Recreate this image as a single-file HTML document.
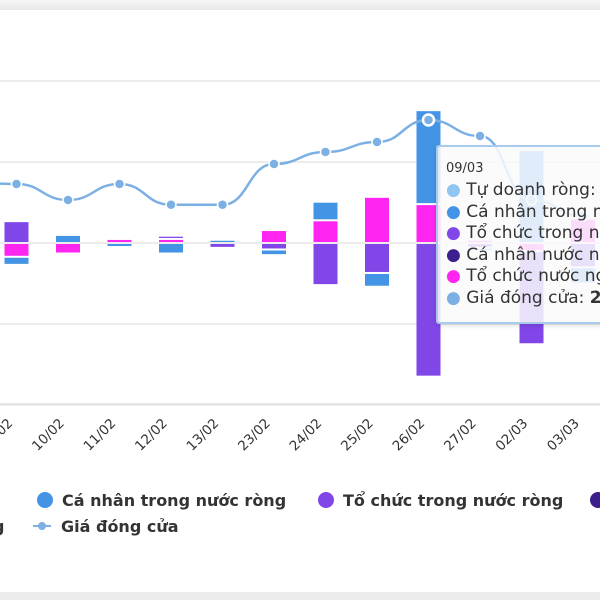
<!DOCTYPE html>
<html><head><meta charset="utf-8"><style>
html,body{margin:0;padding:0;background:#fff;}
body{width:600px;height:600px;overflow:hidden;position:relative;font-family:"DejaVu Sans","Liberation Sans",sans-serif;}
</style></head><body>
<div style="position:absolute;left:0;top:0;width:600px;height:10px;background:linear-gradient(#f6f6f6,#e8e8e8);"></div>
<div style="position:absolute;left:0;top:592px;width:600px;height:8px;background:#ececec;"></div>
<svg id="chart" width="600" height="600" style="position:absolute;left:0;top:0" xmlns="http://www.w3.org/2000/svg"></svg>
<script>
const categories=["08/02","09/02","10/02","11/02","12/02","13/02","23/02","24/02","25/02","26/02","27/02","02/03","03/03"];
const tuDoanh=[0,0,0,0,0,0,0,0,0,0,0,0,0];
const caNhanTN=[0,-10,10,-5,-13,4,-7,23,-17,116,-4,115,-20];
const toChucTN=[0,27,0,0,4,-6,-8,-52,-37,-165,-6,-115,-30];
const caNhanNN=[0,0,0,0,0,0,0,0,0,0,0,0,0];
const toChucNN=[0,-17,-13,5,5,0,16,28,57,48,4,-10,30];
const price=[22.45,22.4,22.0,22.4,21.88,21.88,22.9,23.2,23.45,24.0,23.6,22.0,21.6];
const yTicks=[-200,-100,0,100,200];

const svg=document.getElementById('chart');
const NS='http://www.w3.org/2000/svg';
const x0=-35,step=51.5;
function xS(i){return x0+i*step;}
function yS(v){return 243-v*0.81;}
function yP(p){return 120+(24-p)*40;}
function mk(t,a){const e=document.createElementNS(NS,t);for(const k in a)e.setAttribute(k,a[k]);svg.appendChild(e);return e;}

yTicks.forEach(v=>{const g=mk('line',{x1:0,x2:600,y1:yS(v),y2:yS(v),stroke:'#e6e6e6','stroke-width':1.5});

});

const series=[{d:toChucNN,c:'#ff24f0',n:'to-chuc-nuoc-ngoai'},{d:toChucTN,c:'#8146e8',n:'to-chuc-trong-nuoc'},{d:caNhanTN,c:'#4394e5',n:'ca-nhan-trong-nuoc'},{d:caNhanNN,c:'#3b1f8c',n:'ca-nhan-nuoc-ngoai'},{d:tuDoanh,c:'#8fc6f2',n:'tu-doanh'}];
categories.forEach((c,i)=>{
  let pos=0,neg=0;
  series.forEach(s=>{
    const v=s.d[i]; if(!v) return;
    let y1,y2;
    if(v>0){y1=yS(pos+v);y2=yS(pos);pos+=v;}else{y1=yS(neg);y2=yS(neg+v);neg+=v;}
    const r=mk('rect',{x:xS(i)-12,y:y1+1,width:24,height:Math.max(1,y2-y1-2),fill:s.c});
    
    
  });
});
const ax=mk('line',{x1:0,x2:600,y1:404,y2:404,stroke:'#e0e0e0','stroke-width':1.5});



let d='';
price.forEach((p,i)=>{const X=xS(i),Y=yP(p);
 if(i===0)d+='M'+X+','+Y;else{const px=xS(i-1),py=yP(price[i-1]);d+=' C'+(px+step/2)+','+py+' '+(X-step/2)+','+Y+' '+X+','+Y;}});
const pl=mk('path',{d:d,fill:'none',stroke:'#7cb0e4','stroke-width':2.5});


price.forEach((p,i)=>{
  const hov=i===9;
  const ci=mk('circle',{cx:xS(i),cy:yP(p),r:hov?5.5:5,fill:'#7cb0e4',stroke:'#fff','stroke-width':hov?2.5:1.5});
  
  
});

categories.forEach((c,i)=>{
  const X=xS(i)-3,Y=424;
  const t=mk('text',{x:X,y:Y,'text-anchor':'end',transform:'rotate(-45 '+X+' '+Y+')','font-size':13.5,fill:'#333','font-family':'DejaVu Sans, sans-serif'});
  t.textContent=c;
  
  
});
</script>

<div style="position:absolute;left:436px;top:145px;width:180px;height:175px;background:rgba(250,250,252,0.86);border:2px solid #a9cbeb;border-radius:3px;box-shadow:0 2px 4px rgba(0,0,0,0.12);font-size:17px;color:#333;">
 <div style="position:absolute;left:8px;top:14px;font-size:13px;">09/03</div>
 <div style="position:absolute;left:8px;top:33px;line-height:21.5px;white-space:nowrap;">
  <div><span style="color:#8fc6f2">●</span> Tự doanh ròng: </div>
  <div><span style="color:#4394e5">●</span> Cá nhân trong nước</div>
  <div><span style="color:#8146e8">●</span> Tổ chức trong nước</div>
  <div><span style="color:#3b1f8c">●</span> Cá nhân nước ngoài</div>
  <div><span style="color:#ff24f0">●</span> Tổ chức nước ngoài</div>
  <div><span style="color:#7cb0e4">●</span> Giá đóng cửa: <b>2</b></div>
 </div>
</div>

<div style="position:absolute;left:0;top:488px;width:600px;height:50px;font-size:16px;font-weight:bold;color:#333;white-space:nowrap;">
 <div style="position:absolute;left:-7px;top:29px;">g</div>
 <div style="position:absolute;left:37px;top:3px;"><span style="display:inline-block;width:16px;height:16px;border-radius:50%;background:#4394e5;vertical-align:-2px;margin-right:9px;"></span>Cá nhân trong nước ròng</div>
 <div style="position:absolute;left:318px;top:3px;"><span style="display:inline-block;width:16px;height:16px;border-radius:50%;background:#8146e8;vertical-align:-2px;margin-right:9px;"></span>Tổ chức trong nước ròng</div>
 <div style="position:absolute;left:590px;top:3px;"><span style="display:inline-block;width:16px;height:16px;border-radius:50%;background:#3b1f8c;vertical-align:-2px;"></span></div>
 <div style="position:absolute;left:33px;top:29px;"><span style="display:inline-block;width:18px;border-top:2px dashed #7cb0e4;vertical-align:5px;position:relative;margin-right:10px;"><span style="position:absolute;left:5px;top:-5px;width:8px;height:8px;border-radius:50%;background:#7cb0e4;"></span></span>Giá đóng cửa</div>
</div>
</body></html>
